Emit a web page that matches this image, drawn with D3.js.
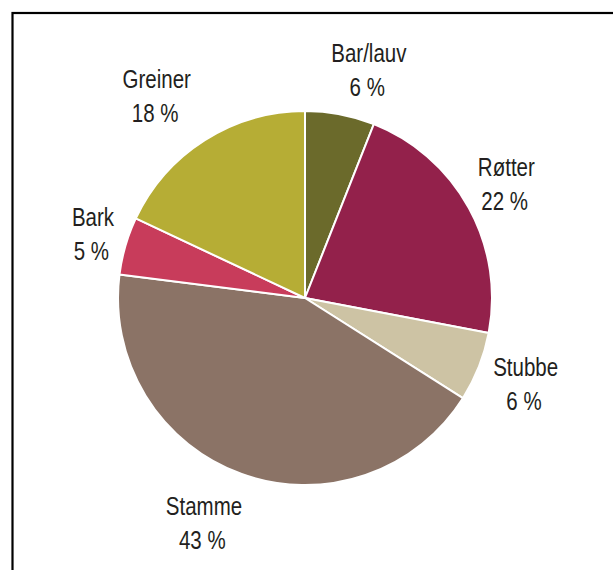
<!DOCTYPE html>
<html>
<head>
<meta charset="utf-8">
<script src="https://cdn.jsdelivr.net/npm/d3@7"></script>
<style>
  html, body { margin: 0; padding: 0; background: #fff; }
  svg { display: block; }
  .lbl { font-family: "Liberation Sans", Arial, sans-serif; font-size: 25px; fill: #231f20; }
</style>
</head>
<body>
<svg id="chart" width="613" height="570"></svg>
<script>
// Fordeling av biomasse i treet (prosent)
const categories = ["Bar/lauv", "Røtter", "Stubbe", "Stamme", "Bark", "Greiner"];
const shares = [6, 22, 6, 43, 5, 18];
const sliceColors = ["#6b6a2b", "#93214b", "#cdc3a4", "#8b7366", "#c83c5b", "#b6ad35"];

// Small hand adjustments of label placement (px)
const labelNudge = {
  "Bar/lauv": [18, 2], "Røtter": [-5, -1], "Stubbe": [-2, 0],
  "Stamme": [-18, 5], "Bark": [7, 1], "Greiner": [-19, -4]
};

const cx = 305, cy = 298, R = 187;
const labelDist = 207, halfBlock = 27, lineGap = 34;
const narrow = 0.82; // condensed lettering

const svg = d3.select("#chart");

// frame
svg.append("rect")
  .attr("x", 12.5).attr("y", 13)
  .attr("width", 640).attr("height", 600)
  .attr("fill", "none").attr("stroke", "#000").attr("stroke-width", 2.2);

const data = categories.map((c, i) => ({ name: c, value: shares[i], color: sliceColors[i] }));

const pie = d3.pie().sort(null).value(d => d.value).startAngle(0).endAngle(2 * Math.PI);
const arc = d3.arc().innerRadius(0).outerRadius(R);
const arcs = pie(data);

const g = svg.append("g").attr("transform", `translate(${cx},${cy})`);

g.selectAll("path.slice")
  .data(arcs)
  .join("path")
  .attr("class", "slice")
  .attr("d", arc)
  .attr("fill", d => d.data.color)
  .attr("stroke", "#fff")
  .attr("stroke-width", 2)
  .attr("stroke-linejoin", "round");

// labels outside each slice: name on first line, share on second
const labelG = g.selectAll("g.lblg")
  .data(arcs)
  .join("g")
  .attr("class", "lblg");

const labels = labelG.append("text")
  .attr("class", "lbl")
  .attr("text-anchor", "middle")
  .attr("transform", `scale(${narrow},1)`);

labels.append("tspan").attr("class", "l1").attr("x", 0).attr("y", 0).text(d => d.data.name);
labels.append("tspan").attr("class", "l2").attr("x", -2).attr("y", lineGap).text(d => d.data.value + " %");

labelG.each(function (d) {
  const t = d3.select(this);
  const w1 = t.select(".l1").node().getComputedTextLength() * narrow;
  const w2 = t.select(".l2").node().getComputedTextLength() * narrow;
  const halfW = Math.max(w1, w2) / 2;
  const a = (d.startAngle + d.endAngle) / 2;
  const s = Math.sin(a), c = -Math.cos(a);
  const nudge = labelNudge[d.data.name] || [0, 0];
  const x = labelDist * s + halfW * s + nudge[0];
  const yc = labelDist * c + halfBlock * c + nudge[1];
  t.attr("transform", `translate(${x},${yc - 8})`);
});
</script>
</body>
</html>
